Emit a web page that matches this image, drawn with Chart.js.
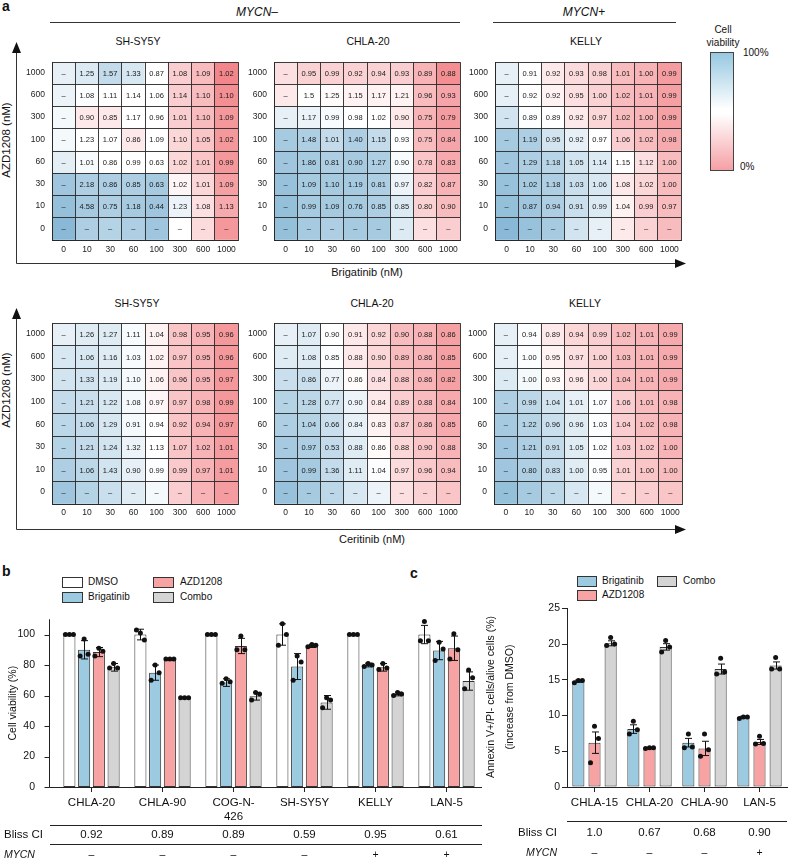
<!DOCTYPE html>
<html>
<head>
<meta charset="utf-8">
<script src="https://cdn.jsdelivr.net/npm/chart.js@4.4.1/dist/chart.umd.min.js"></script>
<style>
  body { margin: 0; background: #fff; }
  #page { position: relative; width: 788px; height: 860px; overflow: hidden;
          font-family: 'Liberation Sans', Arial, Helvetica, sans-serif; color: #111; }
  .t { position: absolute; white-space: nowrap; line-height: 1; }
  .box { position: absolute; border: 1px solid #333; box-sizing: border-box; }
  canvas { position: absolute; }
  svg { position: absolute; left: 0; top: 0; }
</style>
</head>
<body>
<div id="page">
  <svg width="788" height="860">
    <g stroke="#333" stroke-width="1" fill="none">
      <line x1="50" y1="22.5" x2="460" y2="22.5"/>
      <line x1="493" y1="22.5" x2="676" y2="22.5"/>
      <line x1="16.5" y1="263.5" x2="16.5" y2="50"/>
      <line x1="16.5" y1="263.5" x2="678" y2="263.5"/>
      <line x1="16.5" y1="529.5" x2="16.5" y2="316"/>
      <line x1="16.5" y1="529.5" x2="678" y2="529.5"/>
    </g>
    <g fill="#111">
      <polygon points="16.5,42 12,53 21,53"/>
      <polygon points="686,263.5 675,259 675,268"/>
      <polygon points="16.5,308 12,319 21,319"/>
      <polygon points="686,529.5 675,525 675,534"/>
    </g>
  </svg>

  <div class="t" style="left:2px;top:-1px;font-size:14px;font-weight:bold;">a</div>
  <div class="t" style="left:257px;top:6px;font-size:12px;transform:translateX(-50%);"><i>MYCN</i>–</div>
  <div class="t" style="left:584px;top:6px;font-size:12px;transform:translateX(-50%);"><i>MYCN</i>+</div>

  <div class="t" style="left:138px;top:36px;font-size:10.5px;transform:translateX(-50%);">SH-SY5Y</div>
  <div class="t" style="left:368px;top:36px;font-size:10.5px;transform:translateX(-50%);">CHLA-20</div>
  <div class="t" style="left:586px;top:36px;font-size:10.5px;transform:translateX(-50%);">KELLY</div>
  <div class="t" style="left:137px;top:298px;font-size:10.5px;transform:translateX(-50%);">SH-SY5Y</div>
  <div class="t" style="left:372px;top:298px;font-size:10.5px;transform:translateX(-50%);">CHLA-20</div>
  <div class="t" style="left:585px;top:298px;font-size:10.5px;transform:translateX(-50%);">KELLY</div>

  <div class="t" style="left:367px;top:267px;font-size:11px;transform:translateX(-50%);">Brigatinib (nM)</div>
  <div class="t" style="left:372px;top:534px;font-size:11px;transform:translateX(-50%);">Ceritinib (nM)</div>
  <div class="t" style="left:7px;top:140px;font-size:11.5px;transform:translate(-50%,-50%) rotate(-90deg);">AZD1208 (nM)</div>
  <div class="t" style="left:7px;top:390px;font-size:11.5px;transform:translate(-50%,-50%) rotate(-90deg);">AZD1208 (nM)</div>

  <!-- colour bar -->
  <div class="t" style="left:723px;top:25px;font-size:10px;transform:translateX(-50%);">Cell</div>
  <div class="t" style="left:723px;top:38px;font-size:10px;transform:translateX(-50%);">viability</div>
  <div class="box" style="left:710px;top:52px;width:24px;height:119px;border-color:#444;
       background:linear-gradient(to bottom, rgb(150,200,225) 0%, rgb(255,255,255) 48%, rgb(255,255,255) 52%, rgb(245,160,165) 100%);"></div>
  <div class="t" style="left:743px;top:48px;font-size:10px;">100%</div>
  <div class="t" style="left:740px;top:162px;font-size:10px;">0%</div>

  <canvas id="hm1"></canvas>
  <canvas id="hm2"></canvas>
  <canvas id="hm3"></canvas>
  <canvas id="hm4"></canvas>
  <canvas id="hm5"></canvas>
  <canvas id="hm6"></canvas>

  <!-- panel b -->
  <div class="t" style="left:2px;top:564px;font-size:14px;font-weight:bold;">b</div>
  <div class="box" style="left:62px;top:577px;width:21px;height:11px;background:#fff;"></div>
  <div class="t" style="left:88px;top:577px;font-size:10px;">DMSO</div>
  <div class="box" style="left:62px;top:592px;width:21px;height:11px;background:rgb(156,202,225);"></div>
  <div class="t" style="left:88px;top:592px;font-size:10px;">Brigatinib</div>
  <div class="box" style="left:153px;top:577px;width:21px;height:11px;background:rgb(247,163,163);"></div>
  <div class="t" style="left:180px;top:577px;font-size:10px;">AZD1208</div>
  <div class="box" style="left:153px;top:592px;width:21px;height:11px;background:rgb(212,212,212);"></div>
  <div class="t" style="left:180px;top:592px;font-size:10px;">Combo</div>
  <canvas id="barB"></canvas>

  <!-- panel c -->
  <div class="t" style="left:410px;top:566px;font-size:14px;font-weight:bold;">c</div>
  <div class="box" style="left:577px;top:576px;width:20px;height:11px;background:rgb(156,202,225);"></div>
  <div class="t" style="left:602px;top:576px;font-size:10px;">Brigatinib</div>
  <div class="box" style="left:577px;top:590px;width:20px;height:11px;background:rgb(247,163,163);"></div>
  <div class="t" style="left:602px;top:590px;font-size:10px;">AZD1208</div>
  <div class="box" style="left:657px;top:576px;width:20px;height:11px;background:rgb(212,212,212);"></div>
  <div class="t" style="left:683px;top:576px;font-size:10px;">Combo</div>
  <div class="t" style="left:490px;top:697px;font-size:10.5px;transform:translate(-50%,-50%) rotate(-90deg);">Annexin V+/PI- cells/alive cells (%)</div>
  <div class="t" style="left:509px;top:697px;font-size:10.5px;transform:translate(-50%,-50%) rotate(-90deg);">(increase from DMSO)</div>
  <canvas id="barC"></canvas>
</div>

<script>
// ---------- Heatmap axes ----------
const brigDoses = ['0', '10', '30', '60', '100', '300', '600', '1000'];
const azdDoses = ['0', '10', '30', '60', '100', '300', '600', '1000']; // bottom -> top
const D = '–';

// Rows below are listed top (AZD 1000) to bottom (AZD 0), as in the picture.
// Viability (%); Bliss CI printed in the cells.
const viabSyBrig = [
    [62, 65, 72, 66, 55, 44, 40, 28],
    [60, 56, 55, 55, 55, 44, 40, 30],
    [58, 50, 50, 55, 55, 44, 40, 32],
    [58, 55, 55, 50, 55, 46, 42, 32],
    [63, 57, 55, 55, 55, 46, 42, 32],
    [82, 78, 78, 78, 80, 53, 46, 34],
    [85, 80, 78, 80, 82, 60, 48, 36],
    [88, 78, 76, 78, 82, 55, 47, 32]
];
const blissSyBrig = [
    [D, '1.25', '1.57', '1.33', '0.87', '1.08', '1.09', '1.02'],
    [D, '1.08', '1.11', '1.14', '1.06', '1.14', '1.10', '1.10'],
    [D, '0.90', '0.85', '1.17', '0.96', '1.01', '1.10', '1.09'],
    [D, '1.23', '1.07', '0.86', '1.09', '1.10', '1.05', '1.02'],
    [D, '1.01', '0.86', '0.99', '0.63', '1.02', '1.01', '0.99'],
    [D, '2.18', '0.86', '0.85', '0.63', '1.02', '1.01', '1.09'],
    [D, '4.58', '0.75', '1.18', '0.44', '1.23', '1.08', '1.13'],
    [D, D, D, D, D, D, D, D]
];

const viabC20Brig = [
    [48, 45, 45, 45, 45, 44, 38, 30],
    [50, 55, 54, 52, 52, 52, 40, 35],
    [62, 60, 57, 55, 55, 50, 38, 33],
    [80, 78, 72, 78, 72, 55, 40, 35],
    [82, 80, 78, 80, 78, 57, 42, 36],
    [84, 80, 80, 80, 78, 60, 44, 38],
    [85, 80, 80, 80, 78, 65, 45, 40],
    [85, 80, 78, 80, 80, 65, 48, 44]
];
const blissC20Brig = [
    [D, '0.95', '0.99', '0.92', '0.94', '0.93', '0.89', '0.88'],
    [D, '1.5', '1.25', '1.15', '1.17', '1.21', '0.96', '0.93'],
    [D, '1.17', '0.99', '0.98', '1.02', '0.90', '0.75', '0.79'],
    [D, '1.48', '1.01', '1.40', '1.15', '0.93', '0.75', '0.84'],
    [D, '1.86', '0.81', '0.90', '1.27', '0.90', '0.78', '0.83'],
    [D, '1.09', '1.10', '1.19', '0.81', '0.97', '0.82', '0.87'],
    [D, '0.99', '1.09', '0.76', '0.85', '0.85', '0.80', '0.90'],
    [D, D, D, D, D, D, D, D]
];

const viabKellyBrig = [
    [62, 55, 50, 47, 45, 40, 38, 33],
    [62, 55, 52, 48, 45, 40, 38, 34],
    [68, 56, 55, 50, 46, 40, 38, 34],
    [80, 78, 68, 62, 55, 44, 40, 36],
    [82, 78, 75, 68, 65, 55, 48, 40],
    [84, 80, 78, 70, 66, 50, 46, 40],
    [85, 82, 78, 70, 65, 52, 44, 40],
    [88, 84, 80, 68, 62, 50, 45, 40]
];
const blissKellyBrig = [
    [D, '0.91', '0.92', '0.93', '0.98', '1.01', '1.00', '0.99'],
    [D, '0.92', '0.92', '0.95', '1.00', '1.02', '1.01', '0.99'],
    [D, '0.89', '0.89', '0.92', '0.97', '1.02', '1.00', '0.99'],
    [D, '1.19', '0.95', '0.92', '0.97', '1.06', '1.02', '0.98'],
    [D, '1.29', '1.18', '1.05', '1.14', '1.15', '1.12', '1.00'],
    [D, '1.02', '1.18', '1.03', '1.06', '1.08', '1.02', '1.00'],
    [D, '0.87', '0.94', '0.91', '0.99', '1.04', '0.99', '0.97'],
    [D, D, D, D, D, D, D, D]
];

const viabSyCer = [
    [62, 64, 64, 57, 52, 42, 38, 32],
    [66, 66, 64, 57, 52, 42, 38, 32],
    [68, 68, 65, 58, 52, 42, 38, 32],
    [72, 70, 66, 58, 53, 42, 38, 32],
    [74, 72, 66, 58, 55, 42, 38, 32],
    [76, 72, 68, 60, 55, 42, 38, 33],
    [78, 74, 68, 62, 56, 43, 38, 33],
    [82, 76, 70, 64, 58, 44, 38, 33]
];
const blissSyCer = [
    [D, '1.26', '1.27', '1.11', '1.04', '0.98', '0.95', '0.96'],
    [D, '1.06', '1.16', '1.03', '1.02', '0.97', '0.95', '0.96'],
    [D, '1.33', '1.19', '1.10', '1.06', '0.96', '0.95', '0.97'],
    [D, '1.21', '1.22', '1.08', '0.97', '0.97', '0.98', '0.99'],
    [D, '1.06', '1.29', '0.91', '0.94', '0.92', '0.94', '0.97'],
    [D, '1.21', '1.24', '1.32', '1.13', '1.07', '1.02', '1.01'],
    [D, '1.06', '1.43', '0.90', '0.99', '0.99', '0.97', '1.01'],
    [D, D, D, D, D, D, D, D]
];

const viabC20Cer = [
    [62, 64, 55, 50, 46, 40, 38, 34],
    [64, 64, 56, 50, 46, 40, 38, 34],
    [70, 70, 60, 54, 48, 42, 38, 34],
    [76, 74, 68, 60, 50, 44, 40, 36],
    [78, 76, 70, 62, 52, 44, 40, 36],
    [80, 78, 72, 64, 54, 46, 42, 38],
    [82, 80, 72, 64, 56, 47, 43, 40],
    [84, 80, 74, 66, 60, 48, 45, 42]
];
const blissC20Cer = [
    [D, '1.07', '0.90', '0.91', '0.92', '0.90', '0.88', '0.86'],
    [D, '1.08', '0.85', '0.88', '0.90', '0.89', '0.86', '0.85'],
    [D, '0.86', '0.77', '0.86', '0.84', '0.88', '0.86', '0.82'],
    [D, '1.28', '0.77', '0.90', '0.84', '0.89', '0.88', '0.84'],
    [D, '1.04', '0.66', '0.84', '0.83', '0.87', '0.86', '0.85'],
    [D, '0.97', '0.53', '0.88', '0.86', '0.88', '0.90', '0.88'],
    [D, '0.99', '1.36', '1.11', '1.04', '0.97', '0.96', '0.94'],
    [D, D, D, D, D, D, D, D]
];

const viabKellyCer = [
    [62, 56, 50, 46, 44, 40, 38, 36],
    [62, 56, 52, 48, 45, 40, 38, 36],
    [65, 58, 54, 50, 46, 40, 38, 36],
    [78, 74, 68, 62, 56, 44, 40, 38],
    [80, 76, 70, 64, 56, 44, 40, 38],
    [82, 78, 72, 64, 56, 44, 42, 38],
    [82, 78, 72, 64, 56, 45, 42, 40],
    [85, 80, 74, 66, 58, 46, 44, 42]
];
const blissKellyCer = [
    [D, '0.94', '0.89', '0.94', '0.99', '1.02', '1.01', '0.99'],
    [D, '1.00', '0.95', '0.97', '1.00', '1.03', '1.01', '0.99'],
    [D, '1.00', '0.93', '0.96', '1.00', '1.04', '1.01', '0.99'],
    [D, '0.99', '1.04', '1.01', '1.07', '1.06', '1.01', '0.98'],
    [D, '1.22', '0.96', '0.96', '1.03', '1.04', '1.02', '0.98'],
    [D, '1.21', '0.91', '1.05', '1.02', '1.03', '1.02', '1.00'],
    [D, '0.80', '0.83', '1.00', '0.95', '1.01', '1.00', '1.00'],
    [D, D, D, D, D, D, D, D]
];

// ---------- Panel b: viability ----------
const bCells = ['CHLA-20', 'CHLA-90', ['COG-N-', '426'], 'SH-SY5Y', 'KELLY', 'LAN-5'];
const bDmso = [100, 100, 100, 100, 100, 100];
const bBrig = [90, 75, 68.5, 79, 80, 89.5];
const bAzd = [88.5, 83.5, 92.5, 92.5, 78.5, 91];
const bCombo = [78.5, 58.5, 59.5, 55.5, 61, 69.5];
const bDmsoSd = [0, 3.5, 0, 7, 0, 6];
const bBrigSd = [6, 5, 2.5, 8.5, 1.2, 6];
const bAzdSd = [3, 0.5, 5, 1, 2.5, 8];
const bComboSd = [2.5, 0.3, 2.5, 4.5, 1.2, 6];
const bDmsoPts = [[100, 100, 100], [103, 101, 96.5], [100, 100, 100], [93, 107, 100], [100, 100, 100], [96, 108.5, 96]];
const bBrigPts = [[86, 97, 87], [70, 80, 75], [68, 71, 69], [70, 86, 82], [79, 81, 80], [83, 95, 90.5]];
const bAzdPts = [[86, 91, 89], [84, 84, 84], [90, 99, 90], [92, 93.5, 93], [77, 81, 78], [84, 100.5, 90]];
const bComboPts = [[78, 81, 78], [58.5, 58.5, 58.5], [57, 62, 61], [52, 58.5, 57], [60, 62, 61], [64.5, 76.8, 71.7]];
const bBliss = ['0.92', '0.89', '0.89', '0.59', '0.95', '0.61'];
const bMycn = ['–', '–', '–', '–', '+', '+'];

// ---------- Panel c: apoptosis ----------
const cCells = ['CHLA-15', 'CHLA-20', 'CHLA-90', 'LAN-5'];
const cBrig = [14.8, 8.1, 6.2, 9.8];
const cAzd = [6.2, 5.45, 5.4, 6.3];
const cCombo = [20.1, 19.6, 16.5, 17.0];
const cBrigSem = [0.15, 0.6, 0.6, 0.1];
const cAzdSem = [1.5, 0.1, 1.0, 0.35];
const cComboSem = [0.35, 0.45, 0.7, 0.5];
const cBrigPts = [[14.6, 14.9, 14.9], [7.4, 9.2, 8.0], [5.5, 7.4, 5.6], [9.6, 9.8, 9.8]];
const cAzdPts = [[3.4, 8.5, 6.8], [5.4, 5.5, 5.5], [4.3, 7.4, 5.2], [6.0, 7.1, 6.1]];
const cComboPts = [[19.8, 20.9, 20.0], [18.9, 20.5, 19.6], [15.8, 18.0, 16.1], [16.5, 18.1, 16.5]];
const cBliss = ['1.0', '0.67', '0.68', '0.90'];
const cMycn = ['–', '–', '–', '+'];

// ---------- Styles ----------
Chart.defaults.font.family = "'Liberation Sans', Arial, Helvetica, sans-serif";
Chart.defaults.color = '#111';
const FONT = "'Liberation Sans', Arial, sans-serif";
const BLUE = 'rgb(156, 202, 225)';
const PINK = 'rgb(247, 163, 163)';
const GREY = 'rgb(212, 212, 212)';

// viability -> blue / white / red
function viabColor(v) {
    const blue = [95, 160, 200], red = [238, 98, 104];
    let t, c;
    if (v >= 55) { t = Math.min(1, (v - 55) / 45); c = blue; }
    else { t = Math.min(1, (55 - v) / 35); c = red; }
    const mix = (k) => Math.round(255 + (c[k] - 255) * t);
    return `rgb(${mix(0)}, ${mix(1)}, ${mix(2)})`;
}

// One heatmap = stacked bar chart, one dataset per AZD1208 row
function initHeatmap(id, x0, y0, w, h, labelPad, viab, bliss) {
    const canvas = document.getElementById(id);
    const axisW = 34, axisH = 24;
    canvas.width = axisW + w + 4;
    canvas.height = h + 2 + axisH;
    canvas.style.left = (x0 - axisW) + 'px';
    canvas.style.top = (y0 - 2) + 'px';
    const cellH = h / 8;
    const lineColor = 'rgba(40, 40, 40, 0.9)';

    return new Chart(canvas, {
        type: 'bar',
        data: {
            labels: brigDoses,
            datasets: azdDoses.map((dose, r) => ({
                label: dose,
                data: brigDoses.map(() => 1),
                backgroundColor: viab[7 - r].map(viabColor),
                borderWidth: 0
            }))
        },
        options: {
            responsive: false,
            animation: false,
            barPercentage: 1,
            categoryPercentage: 1,
            layout: { padding: { top: 2, right: 4, left: 0, bottom: 0 } },
            plugins: { legend: { display: false }, tooltip: { enabled: false } },
            scales: {
                x: {
                    stacked: true,
                    grid: { z: 1, offset: true, color: lineColor, lineWidth: 1, drawTicks: false },
                    border: { z: 1, color: lineColor },
                    ticks: { padding: labelPad, font: { size: 8.5 }, color: '#222', maxRotation: 0, autoSkip: false },
                    afterFit: (s) => { s.height = axisH; }
                },
                y: {
                    stacked: true,
                    min: 0,
                    max: 8,
                    grid: { z: 1, color: lineColor, lineWidth: 1, drawTicks: false },
                    border: { z: 1, color: lineColor },
                    ticks: {
                        stepSize: 1,
                        padding: 7,
                        labelOffset: -cellH / 2,
                        font: { size: 8.5 },
                        color: '#222',
                        callback: (v) => azdDoses[v] || ''
                    },
                    afterFit: (s) => { s.width = axisW; }
                }
            }
        },
        plugins: [{
            id: 'cellText',
            afterDraw(chart) {
                const ctx = chart.ctx;
                ctx.save();
                ctx.font = '7.5px ' + FONT;
                ctx.fillStyle = '#1a1a1a';
                ctx.textAlign = 'center';
                ctx.textBaseline = 'middle';
                chart.data.datasets.forEach((ds, r) => {
                    chart.getDatasetMeta(r).data.forEach((bar, c) => {
                        ctx.fillText(bliss[7 - r][c], bar.x, (bar.y + bar.base) / 2 + 0.5);
                    });
                });
                ctx.restore();
            }
        }]
    });
}

// Error bars + replicate dots on top of grouped bars
function errorDots(errs, pts) {
    return {
        id: 'errorDots',
        afterDatasetsDraw(chart) {
            const ctx = chart.ctx, y = chart.scales.y;
            ctx.save();
            ctx.strokeStyle = '#111';
            ctx.fillStyle = '#111';
            ctx.lineWidth = 1;
            chart.data.datasets.forEach((ds, i) => {
                chart.getDatasetMeta(i).data.forEach((bar, j) => {
                    const m = ds.data[j], e = errs[i][j];
                    const x = Math.round(bar.x) + 0.5;
                    if (e > 0) {
                        const yt = y.getPixelForValue(m + e), yb = y.getPixelForValue(m - e);
                        ctx.beginPath();
                        ctx.moveTo(x, yt); ctx.lineTo(x, yb);
                        ctx.moveTo(x - 3.5, yt); ctx.lineTo(x + 3.5, yt);
                        ctx.moveTo(x - 3.5, yb); ctx.lineTo(x + 3.5, yb);
                        ctx.stroke();
                    }
                    pts[i][j].forEach((p, k) => {
                        ctx.beginPath();
                        ctx.arc(bar.x + (k - 1) * bar.width * 0.33, y.getPixelForValue(p), 2.5, 0, Math.PI * 2);
                        ctx.fill();
                    });
                });
            });
            ctx.restore();
        }
    };
}

// Bliss CI / MYCN rows under a bar chart
function blissTable(bliss, mycn, opt) {
    return {
        id: 'blissTable',
        afterDraw(chart) {
            const ctx = chart.ctx, x = chart.scales.x;
            ctx.save();
            ctx.strokeStyle = '#222';
            ctx.lineWidth = 1;
            ctx.beginPath();
            opt.lines.forEach((ly) => { ctx.moveTo(opt.x1, ly + 0.5); ctx.lineTo(opt.x2, ly + 0.5); });
            ctx.stroke();
            ctx.fillStyle = '#111';
            ctx.textBaseline = 'middle';
            ctx.font = '11.5px ' + FONT;
            ctx.textAlign = opt.labelAlign;
            ctx.fillText('Bliss CI', opt.labelX, opt.blissY);
            ctx.font = 'italic 10.5px ' + FONT;
            ctx.fillText('MYCN', opt.labelX, opt.mycnY);
            ctx.textAlign = 'center';
            bliss.forEach((b, i) => {
                const px = x.getPixelForValue(i);
                ctx.font = '11.5px ' + FONT;
                ctx.fillText(b, px, opt.blissY);
                ctx.font = '10.5px ' + FONT;
                ctx.fillText(mycn[i], px, opt.mycnY);
            });
            ctx.restore();
        }
    };
}

function initPanelB() {
    const canvas = document.getElementById('barB');
    canvas.width = 490; canvas.height = 260;
    canvas.style.left = '0px'; canvas.style.top = '600px';
    const barStyle = { borderColor: '#333', borderWidth: 1, borderSkipped: false };

    new Chart(canvas, {
        type: 'bar',
        data: {
            labels: bCells,
            datasets: [
                { label: 'DMSO', data: bDmso, backgroundColor: '#fff', ...barStyle },
                { label: 'Brigatinib', data: bBrig, backgroundColor: BLUE, ...barStyle },
                { label: 'AZD1208', data: bAzd, backgroundColor: PINK, ...barStyle },
                { label: 'Combo', data: bCombo, backgroundColor: GREY, ...barStyle }
            ]
        },
        options: {
            responsive: false,
            animation: false,
            categoryPercentage: 0.83,
            barPercentage: 0.82,
            layout: { padding: { top: 8, right: 8, left: 0, bottom: 0 } },
            plugins: { legend: { display: false }, tooltip: { enabled: false } },
            scales: {
                x: {
                    grid: { display: true, drawOnChartArea: false, offset: false, tickLength: 5, color: '#222' },
                    border: { display: false },
                    ticks: { font: { size: 11.5 }, padding: 4, maxRotation: 0, autoSkip: false, color: '#111' },
                    afterFit: (s) => { s.height = 73; }
                },
                y: {
                    min: 0,
                    max: 110,
                    grid: { display: false },
                    border: { display: false },
                    ticks: { stepSize: 20, padding: 13, font: { size: 10.5 }, color: '#111',
                             callback: (v) => (v % 20 === 0 ? v : '') },
                    title: { display: true, text: 'Cell viability (%)', font: { size: 10.5 }, padding: { top: 7, bottom: 0 }, color: '#111' },
                    afterFit: (s) => { s.width = 56; }
                }
            }
        },
        plugins: [
            errorDots([bDmsoSd, bBrigSd, bAzdSd, bComboSd], [bDmsoPts, bBrigPts, bAzdPts, bComboPts]),
            {
                // y axis sits a little left of the first bar group
                id: 'axisB',
                afterDraw(chart) {
                    const ctx = chart.ctx, a = chart.chartArea, y = chart.scales.y;
                    const ax = a.left - 6.5;
                    ctx.save();
                    ctx.strokeStyle = '#222';
                    ctx.lineWidth = 1;
                    ctx.beginPath();
                    ctx.moveTo(ax, a.top); ctx.lineTo(ax, Math.round(a.bottom) + 0.5);
                    ctx.lineTo(a.right, Math.round(a.bottom) + 0.5);
                    y.ticks.forEach((t) => {
                        if (t.value % 20 !== 0) return;
                        const py = Math.round(y.getPixelForValue(t.value)) + 0.5;
                        ctx.moveTo(ax - 5, py); ctx.lineTo(ax, py);
                    });
                    ctx.stroke();
                    ctx.restore();
                }
            },
            blissTable(bBliss, bMycn, { lines: [225, 244], x1: 50, x2: 482, labelX: 4, labelAlign: 'left', blissY: 235, mycnY: 255 })
        ]
    });
}

function initPanelC() {
    const canvas = document.getElementById('barC');
    canvas.width = 288; canvas.height = 260;
    canvas.style.left = '500px'; canvas.style.top = '600px';
    const barStyle = { borderColor: '#333', borderWidth: 1, borderSkipped: false };

    new Chart(canvas, {
        type: 'bar',
        data: {
            labels: cCells,
            datasets: [
                { label: 'Brigatinib', data: cBrig, backgroundColor: BLUE, ...barStyle },
                { label: 'AZD1208', data: cAzd, backgroundColor: PINK, ...barStyle },
                { label: 'Combo', data: cCombo, backgroundColor: GREY, ...barStyle }
            ]
        },
        options: {
            responsive: false,
            animation: false,
            categoryPercentage: 0.88,
            barPercentage: 0.75,
            layout: { padding: { top: 8, right: 1, left: 0, bottom: 0 } },
            plugins: { legend: { display: false }, tooltip: { enabled: false } },
            scales: {
                x: {
                    grid: { display: true, drawOnChartArea: false, offset: false, tickLength: 5, color: '#222' },
                    border: { display: true, color: '#222' },
                    ticks: { font: { size: 11.5 }, padding: 4, maxRotation: 0, autoSkip: false, color: '#111' },
                    afterFit: (s) => { s.height = 73; }
                },
                y: {
                    min: 0,
                    max: 25,
                    grid: { display: true, drawOnChartArea: false, tickLength: 5, color: '#222' },
                    border: { display: true, color: '#222' },
                    ticks: { stepSize: 5, padding: 2, font: { size: 10.5 }, color: '#111' },
                    afterFit: (s) => { s.width = 67; }
                }
            }
        },
        plugins: [
            errorDots([cBrigSem, cAzdSem, cComboSem], [cBrigPts, cAzdPts, cComboPts]),
            blissTable(cBliss, cMycn, { lines: [221], x1: 67, x2: 287, labelX: 57, labelAlign: 'right', blissY: 233, mycnY: 253 })
        ]
    });
}

// Initialize everything
initHeatmap('hm1', 52, 52, 186, 188, 5, viabSyBrig, blissSyBrig);
initHeatmap('hm2', 274, 52, 186, 188, 5, viabC20Brig, blissC20Brig);
initHeatmap('hm3', 495, 52, 186, 188, 5, viabKellyBrig, blissKellyBrig);
initHeatmap('hm4', 52, 313, 186, 191, 4, viabSyCer, blissSyCer);
initHeatmap('hm5', 274, 313, 186, 191, 4, viabC20Cer, blissC20Cer);
initHeatmap('hm6', 494, 313, 188, 191, 4, viabKellyCer, blissKellyCer);
initPanelB();
initPanelC();
</script>
</body>
</html>
